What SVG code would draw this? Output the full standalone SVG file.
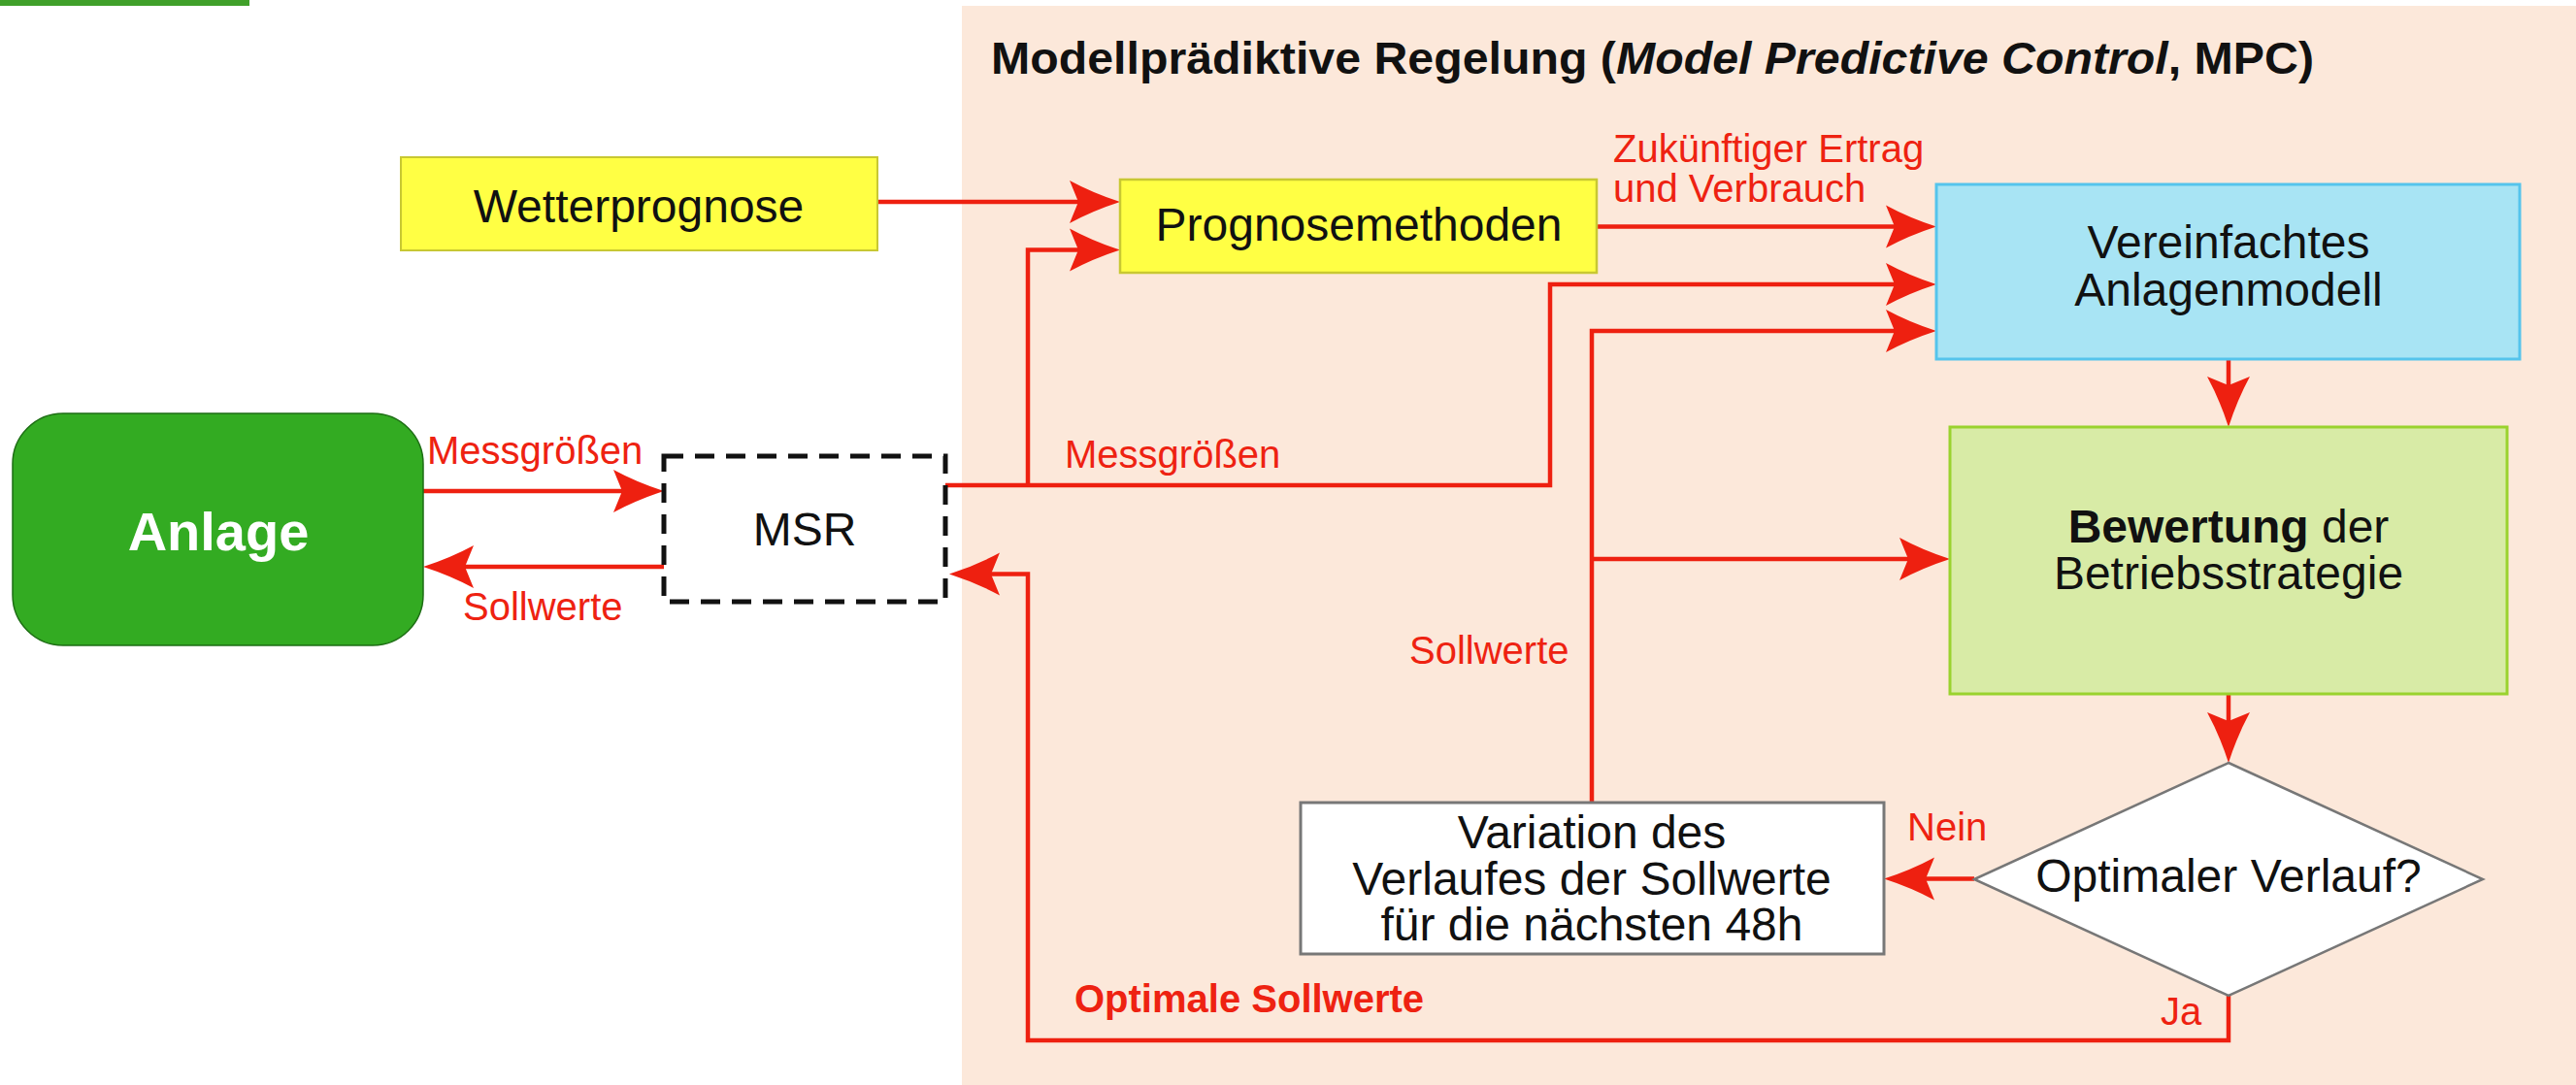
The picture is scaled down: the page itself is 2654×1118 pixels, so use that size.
<svg xmlns="http://www.w3.org/2000/svg" width="2654" height="1118" viewBox="0 0 2654 1118">
  <style>
    .node { font-family: "Liberation Sans", Arial, sans-serif; font-size: 48px; fill: #111; text-anchor: middle; }
    .lbl { font-family: "Liberation Sans", Arial, sans-serif; font-size: 40px; fill: #ee2211; }
    .wire { fill: none; stroke: #ee2010; stroke-width: 4.5; stroke-linejoin: miter; }
    .arr { marker-end: url(#head); }
  </style>
  <defs>
    <!-- stealth arrowhead; ref point sits at the notch so the line hides under the head -->
    <marker id="head" markerUnits="userSpaceOnUse" viewBox="0 -24 54 48" markerWidth="54" markerHeight="48" refX="9" refY="0" orient="auto" overflow="visible">
      <path d="M52,0 Q24,-9 0,-22 L9,0 L0,22 Q24,9 52,0 Z" fill="#ee2010"/>
    </marker>
  </defs>

  <!-- page background -->
  <rect x="0" y="0" width="2654" height="1118" fill="#ffffff"/>
  <rect x="0" y="0" width="257" height="6" fill="#40a02a"/>

  <!-- MPC region -->
  <g id="mpc-region">
    <rect x="991" y="6" width="1663" height="1112" fill="#fce8da"/>
    <text x="1021" y="76" textLength="1363" lengthAdjust="spacingAndGlyphs" font-family="Liberation Sans, Arial, sans-serif" font-size="47" font-weight="bold" fill="#111">Modellprädiktive Regelung (<tspan font-style="italic">Model Predictive Control</tspan>, MPC)</text>
  </g>

  <!-- connectors -->
  <g id="connectors">
    <path class="wire arr" d="M436,506 H641"/>
    <path class="wire arr" d="M684,584 H479"/>
    <path class="wire arr" d="M904,208 H1111"/>
    <path class="wire arr" d="M974,500 H1597 V293 H1952"/>
    <path class="wire arr" d="M1059,500 V257.5 H1111"/>
    <path class="wire arr" d="M1645,233.5 H1952"/>
    <path class="wire arr" d="M1640,827 V341 H1952"/>
    <path class="wire arr" d="M1640,576 H1966"/>
    <path class="wire arr" d="M2296,370.5 V397"/>
    <path class="wire arr" d="M2296,715 V743"/>
    <path class="wire arr" d="M2034,905.6 H1984"/>
    <path class="wire arr" d="M2296,1026 V1072 H1059 V591.5 H1021"/>

    <text class="lbl" x="440" y="478">Messgrößen</text>
    <text class="lbl" x="477" y="639">Sollwerte</text>
    <text class="lbl" x="1097" y="482">Messgrößen</text>
    <text class="lbl" x="1662" y="167">Zukünftiger Ertrag<tspan x="1662" dy="41">und Verbrauch</tspan></text>
    <text class="lbl" x="1452" y="684">Sollwerte</text>
    <text class="lbl" x="1965" y="866">Nein</text>
    <text class="lbl" x="2226" y="1056">Ja</text>
    <text class="lbl" x="1107" y="1043" font-weight="bold">Optimale Sollwerte</text>
  </g>

  <!-- nodes -->
  <g id="anlage">
    <rect x="13" y="426" width="423" height="239" rx="52" ry="52" fill="#33ab22" stroke="#1d6e14" stroke-width="1.5"/>
    <text x="225" y="567" font-family="Liberation Sans, Arial, sans-serif" font-size="56" font-weight="bold" fill="#ffffff" text-anchor="middle">Anlage</text>
  </g>

  <g id="msr">
    <rect x="684" y="470" width="290" height="150" fill="#ffffff" stroke="#111" stroke-width="5" stroke-dasharray="20 12"/>
    <text class="node" x="829" y="562">MSR</text>
  </g>

  <g id="wetterprognose">
    <rect x="413" y="162" width="491" height="96" fill="#ffff44" stroke="#c8c832" stroke-width="2"/>
    <text class="node" x="658" y="229">Wetterprognose</text>
  </g>

  <g id="prognosemethoden">
    <rect x="1154" y="185" width="491" height="96" fill="#ffff44" stroke="#c8c832" stroke-width="2.5"/>
    <text class="node" x="1400" y="248">Prognosemethoden</text>
  </g>

  <g id="anlagenmodell">
    <rect x="1995" y="190" width="601" height="180" fill="#a8e4f4" stroke="#55c4ec" stroke-width="3"/>
    <text class="node" x="2296" y="266">Vereinfachtes<tspan x="2296" dy="49">Anlagenmodell</tspan></text>
  </g>

  <g id="bewertung">
    <rect x="2009" y="440" width="574" height="275" fill="#d8eba6" stroke="#9ad22e" stroke-width="3"/>
    <text class="node" x="2296" y="559"><tspan font-weight="bold">Bewertung</tspan> der<tspan x="2296" dy="48">Betriebsstrategie</tspan></text>
  </g>

  <g id="entscheidung">
    <polygon points="2296,786 2558,906 2296,1026 2034,906" fill="#ffffff" stroke="#777" stroke-width="2.5"/>
    <text class="node" x="2296" y="919">Optimaler Verlauf?</text>
  </g>

  <g id="variation">
    <rect x="1340" y="827" width="601" height="156" fill="#ffffff" stroke="#777" stroke-width="3"/>
    <text class="node" x="1640" y="874">Variation des<tspan x="1640" dy="48">Verlaufes der Sollwerte</tspan><tspan x="1640" dy="47">für die nächsten 48h</tspan></text>
  </g>
</svg>
